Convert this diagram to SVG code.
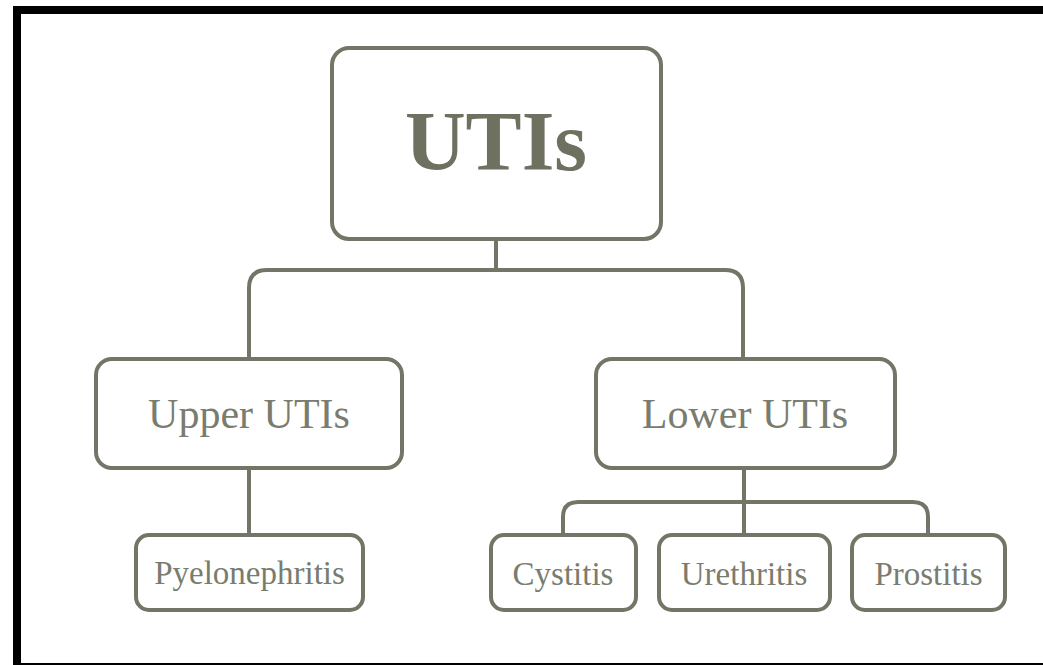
<svg xmlns="http://www.w3.org/2000/svg" width="1043" height="665" viewBox="0 0 1043 665">
<style>
.box{fill:#ffffff;stroke:#737566;stroke-width:4}
.conn{fill:none;stroke:#737566;stroke-width:4}
.lbl{font-family:"Liberation Serif","Times New Roman",serif;fill:#797C6E;text-anchor:middle}
.title{font-family:"Liberation Serif","Times New Roman",serif;font-weight:bold;fill:#6E7160;text-anchor:middle}
</style>
<rect x="0" y="0" width="1043" height="665" fill="#ffffff"/>
<g id="frame">
<rect x="13" y="6" width="1030" height="8" fill="#000000"/>
<rect x="13" y="6" width="8" height="659" fill="#000000"/>
<rect x="13" y="663" width="1030" height="2" fill="#000000"/>
</g>
<g id="connectors">
<path class="conn" d="M496,239 V270"/>
<path class="conn" d="M249,359 V288 Q249,270 267,270 H725 Q743,270 743,288 V359"/>
<path class="conn" d="M249,468 V535"/>
<path class="conn" d="M744,468 V535"/>
<path class="conn" d="M563,535 V517 Q563,502 578,502 H913 Q928,502 928,517 V535"/>
</g>
<g id="node-utis">
<rect class="box" x="332" y="48" width="329" height="191" rx="17"/>
<text class="title" x="496" y="170" font-size="84">UTIs</text>
</g>
<g id="node-upper">
<rect class="box" x="96" y="359" width="306" height="109" rx="16"/>
<text class="lbl" x="249" y="428" font-size="42">Upper UTIs</text>
</g>
<g id="node-lower">
<rect class="box" x="596" y="359" width="299" height="109" rx="16"/>
<text class="lbl" x="745" y="428" font-size="42">Lower UTIs</text>
</g>
<g id="node-pyelonephritis">
<rect class="box" x="136" y="535" width="227" height="75" rx="13"/>
<text class="lbl" x="249.5" y="584" font-size="33">Pyelonephritis</text>
</g>
<g id="node-cystitis">
<rect class="box" x="491" y="535" width="145" height="75" rx="13"/>
<text class="lbl" x="563" y="585" font-size="33">Cystitis</text>
</g>
<g id="node-urethritis">
<rect class="box" x="659" y="535" width="171" height="75" rx="13"/>
<text class="lbl" x="744" y="585" font-size="33">Urethritis</text>
</g>
<g id="node-prostitis">
<rect class="box" x="852" y="535" width="153" height="75" rx="13"/>
<text class="lbl" x="928.5" y="585" font-size="33">Prostitis</text>
</g>
</svg>
